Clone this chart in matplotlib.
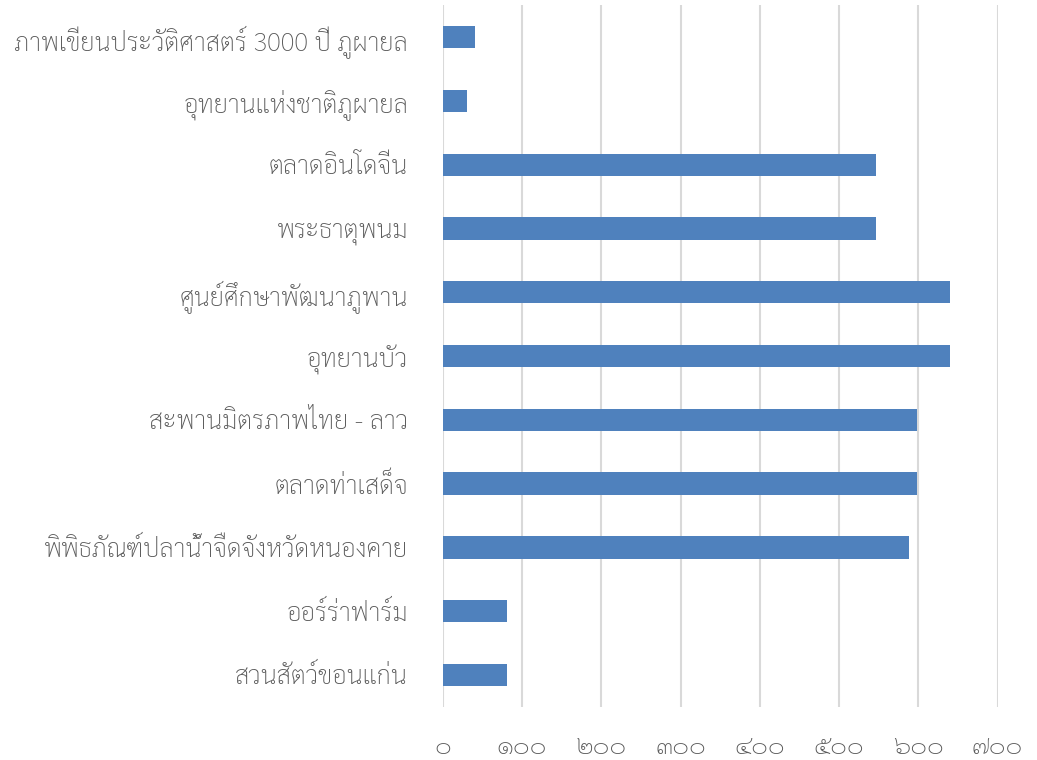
import matplotlib
matplotlib.use("Agg")
import matplotlib.pyplot as plt

places = [
    "สวนสัตว์ขอนแก่น",
    "ออร์ร่าฟาร์ม",
    "พิพิธภัณฑ์ปลาน้ำจืดจังหวัดหนองคาย",
    "ตลาดท่าเสด็จ",
    "สะพานมิตรภาพไทย - ลาว",
    "อุทยานบัว",
    "ศูนย์ศึกษาพัฒนาภูพาน",
    "พระธาตุพนม",
    "ตลาดอินโดจีน",
    "อุทยานแห่งชาติภูผายล",
    "ภาพเขียนประวัติศาสตร์ 3000 ปี ภูผายล",
]
counts = [81, 81, 588, 598, 598, 640, 640, 547, 547, 30, 40]
ticks = [0, 100, 200, 300, 400, 500, 600, 700]
tick_labels = ["๐", "๑๐๐", "๒๐๐", "๓๐๐", "๔๐๐", "๕๐๐", "๖๐๐", "๗๐๐"]

plt.rcParams["font.family"] = ["Sarabun", "DejaVu Sans"]
plt.rcParams["font.weight"] = "light"

fig = plt.figure(figsize=(10.37, 7.6), dpi=100)
ax = fig.add_axes([0.427, 0.070, 0.535, 0.923])
ax.barh(range(len(places)), counts, height=0.35, color="#4f81bd", zorder=3)
ax.set_xlim(0, 700)
ax.set_ylim(-0.5, len(places) - 0.5)
ax.set_xticks(ticks)
ax.set_xticklabels(tick_labels)
ax.set_yticks(range(len(places)))
ax.set_yticklabels(places)
ax.grid(axis="x", color="#d9d9d9", linewidth=1.5, zorder=0)
ax.tick_params(axis="both", length=0, colors="#595959", labelsize=18.4)
ax.tick_params(axis="x", pad=20)
ax.tick_params(axis="y", pad=25)
for s in ax.spines.values():
    s.set_visible(False)
fig.savefig("out.png")
